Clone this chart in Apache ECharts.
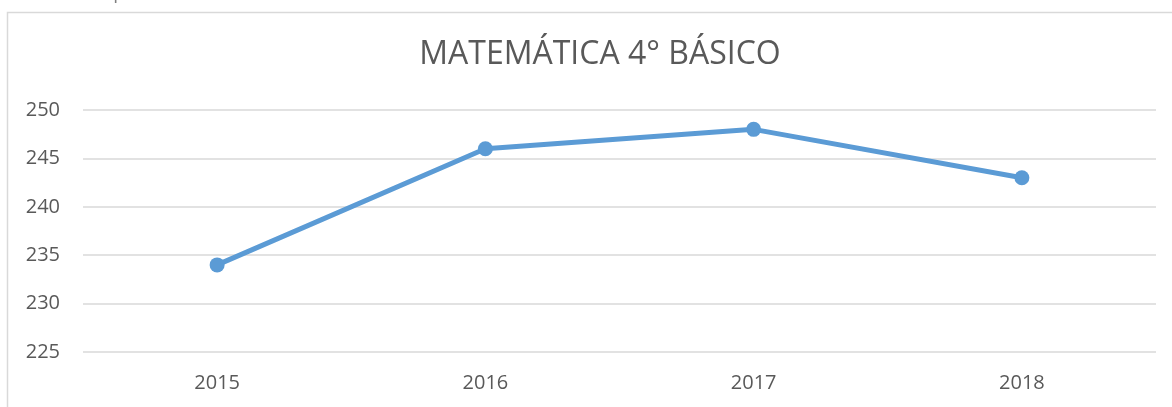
<!DOCTYPE html>
<html>
<head>
<meta charset="utf-8">
<script src="https://cdn.jsdelivr.net/npm/echarts@6/dist/echarts.min.js"></script>
<style>
  html, body { margin: 0; padding: 0; background: #fff; }
  #chart { width: 1172px; height: 407px; }
</style>
</head>
<body>
<div id="chart"></div>
<script>
const years = ['2015', '2016', '2017', '2018'];
const puntaje = [234, 246, 248, 243];
const yMin = 225, yMax = 250, yStep = 5;

const chart = echarts.init(document.getElementById('chart'));
const font = 'Open Sans';
chart.setOption({
  animation: false,
  title: {
    text: 'MATEMÁTICA 4° BÁSICO',
    left: 595,
    top: 34,
    textAlign: 'center',
    textStyle: { fontFamily: font, fontSize: 32, fontWeight: 'normal', color: '#595959' }
  },
  graphic: [{
    type: 'rect',
    shape: { x: 7.5, y: 12.5, width: 1200, height: 420 },
    style: { fill: 'none', stroke: '#d9d9d9', lineWidth: 1.5 },
    silent: true
  }, {
    // texto del documento que queda cortado arriba
    type: 'text',
    left: 8,
    top: -16,
    style: { text: 'cuadro comparativo de resultados', fontFamily: font, fontSize: 19, fill: '#7f7f7f' },
    silent: true
  }],
  grid: { left: 83, right: 16, top: 110, bottom: 55 },
  xAxis: {
    type: 'category',
    data: years,
    axisLine: { show: false },
    axisTick: { show: false },
    axisLabel: { fontFamily: font, fontSize: 20, color: '#595959', margin: 21 }
  },
  yAxis: {
    type: 'value',
    min: yMin,
    max: yMax,
    interval: yStep,
    axisLine: { show: false },
    axisTick: { show: false },
    axisLabel: { fontFamily: font, fontSize: 20, color: '#595959', margin: 23 },
    splitLine: { lineStyle: { color: '#d9d9d9', width: 1.5 } }
  },
  series: [{
    type: 'line',
    data: puntaje,
    symbol: 'circle',
    symbolSize: 15,
    lineStyle: { color: '#5b9bd5', width: 5 },
    itemStyle: { color: '#5b9bd5' }
  }]
});
</script>
</body>
</html>
